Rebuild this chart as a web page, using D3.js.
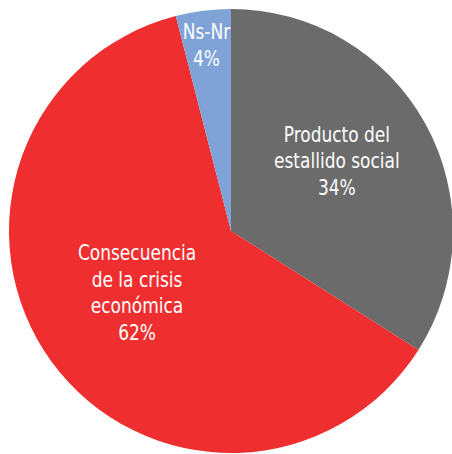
<!DOCTYPE html>
<html>
<head>
<meta charset="utf-8">
<script src="https://cdn.jsdelivr.net/npm/d3@7"></script>
<style>
  html, body { margin: 0; padding: 0; background: #ffffff; }
  svg { display: block; }
</style>
</head>
<body>
<svg id="chart" width="452" height="454"></svg>
<script>
// Survey answers, in clockwise order from 12 o'clock
const categories = ["Producto del estallido social", "Consecuencia de la crisis económica", "Ns-Nr"];
const labelLines = [["Producto del", "estallido social"], ["Consecuencia", "de la crisis", "económica"], ["Ns-Nr"]];
const values = [34, 62, 4];
const colors = ["#6b6b6b", "#ee2e2f", "#7fa3d7"];

const svg = d3.select("#chart");
const cx = 231, cy = 231, radius = 222;
const g = svg.append("g").attr("transform", `translate(${cx},${cy})`);

const pie = d3.pie().sort(null).value(d => d);
const arcs = pie(values);
const arc = d3.arc().innerRadius(0).outerRadius(radius);

g.selectAll("path.slice")
  .data(arcs)
  .join("path")
  .attr("class", "slice")
  .attr("d", arc)
  .attr("fill", (d, i) => colors[i]);

// label block placement: distance from the centre and a small angular nudge (degrees)
const labelRadius = [123, 116.6, 180.5];
const labelNudge = [-1.8, -0.3, -0.6];
const lineH = 26.7;
const fontFamily = "'Liberation Sans Narrow', 'DejaVu Sans Condensed', 'Arial Narrow', sans-serif";

arcs.forEach((d, i) => {
  const mid = (d.startAngle + d.endAngle) / 2 + labelNudge[i] * Math.PI / 180;
  const x = Math.sin(mid) * labelRadius[i];
  const y = -Math.cos(mid) * labelRadius[i];
  const lines = labelLines[i].concat([values[i] + "%"]);
  const top = y - (lines.length - 1) * lineH / 2;
  const block = g.append("g")
    .attr("transform", `translate(${x},${top}) scale(0.86,1)`);
  const text = block.append("text")
    .attr("text-anchor", "middle")
    .attr("fill", "#ffffff")
    .attr("font-family", fontFamily)
    .attr("font-size", 22);
  lines.forEach((t, k) => {
    text.append("tspan")
      .attr("x", 0)
      .attr("y", k * lineH)
      .text(t);
  });
});
</script>
</body>
</html>
